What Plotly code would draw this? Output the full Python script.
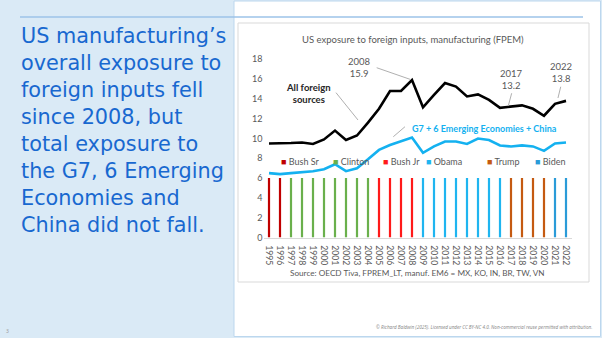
import plotly.graph_objects as go

# ---------------- data ----------------
years = ["1995", "1996", "1997", "1998", "1999", "2000", "2001", "2002", "2003", "2004",
         "2005", "2006", "2007", "2008", "2009", "2010", "2011", "2012", "2013", "2014",
         "2015", "2016", "2017", "2018", "2019", "2020", "2021", "2022"]
all_foreign = [9.5, 9.5, 9.55, 9.6, 9.45, 9.9, 10.8, 9.85, 10.3, 11.6,
               13.0, 14.8, 14.8, 15.9, 13.15, 14.4, 15.6, 15.25, 14.25, 14.45,
               13.9, 13.1, 13.2, 13.35, 13.0, 12.3, 13.5, 13.8]
g7_em6_china = [6.5, 6.4, 6.5, 6.6, 6.7, 6.9, 7.4, 6.7, 7.0, 7.9,
                8.85, 9.35, 9.75, 10.1, 8.55, 9.2, 9.7, 9.7, 9.45, 10.0,
                9.85, 9.3, 9.2, 9.3, 9.2, 8.75, 9.5, 9.6]
president = ["Bush Sr", "Bush Sr", "Clinton", "Clinton", "Clinton", "Clinton", "Clinton", "Clinton",
             "Clinton", "Clinton", "Bush Jr", "Bush Jr", "Bush Jr", "Bush Jr", "Obama", "Obama",
             "Obama", "Obama", "Obama", "Obama", "Obama", "Obama", "Trump", "Trump", "Trump",
             "Trump", "Biden", "Biden"]
term_bar = [6, 6, 6, 6, 6, 6, 6, 6, 6, 6, 6, 6, 6, 6, 6, 6, 6, 6, 6, 6, 6, 6, 6, 6, 6, 6, 6, 6]
presidents = ["Bush Sr", "Clinton", "Bush Jr", "Obama", "Trump", "Biden"]
pres_colors = ["#C00000", "#6AB04C", "#FF1A1A", "#1FB5F0", "#C55A11", "#2A9BD8"]

# point labels (year, value)
callouts = [("2008", "15.9"), ("2017", "13.2"), ("2022", "13.8")]

# ---------------- figure ----------------
W, H = 602, 338
def px(x):
    return x / W
def py(y):
    return 1 - y / H

GRAY = "#595959"
CH_FONT = "Lato"

fig = go.Figure()
for name, col in zip(presidents, pres_colors):
    xs = [y for y, p in zip(years, president) if p == name]
    vs = [v for v, p in zip(term_bar, president) if p == name]
    fig.add_trace(go.Bar(x=xs, y=vs, name=name, marker=dict(color=col, line=dict(width=0)),
                         width=0.2, showlegend=False, hoverinfo="skip"))
fig.add_trace(go.Scatter(x=years, y=all_foreign, mode="lines", name="All foreign sources",
                         line=dict(color="#000000", width=2.6), showlegend=False))
fig.add_trace(go.Scatter(x=years, y=g7_em6_china, mode="lines",
                         name="G7 + 6 Emerging Economies + China",
                         line=dict(color="#14B1F0", width=2.6), showlegend=False))

shapes = []
# white card on the right of the slide
shapes.append(dict(type="rect", xref="paper", yref="paper", x0=px(234), x1=px(600.5),
                   y0=py(336.5), y1=py(1), fillcolor="white",
                   line=dict(color="#BCD7EE", width=1), layer="below"))
# top rule
shapes.append(dict(type="line", xref="paper", yref="paper", x0=px(20), x1=px(583),
                   y0=py(17), y1=py(17), line=dict(color="#9CC3E8", width=1.3)))
# chart box
shapes.append(dict(type="rect", xref="paper", yref="paper", x0=px(238), x1=px(589),
                   y0=py(282), y1=py(23), fillcolor="white",
                   line=dict(color="#D9D9D9", width=1), layer="below"))
# leader lines (category index, value)
leaders = [((9.79, 17.15), (12.82, 15.98)),
           ((6.09, 14.63), (8.09, 11.87)),
           ((22.06, 14.57), (21.75, 13.28)),
           ((26.52, 15.23), (26.27, 14.09)),
           ((12.36, 11.19), (11.3, 10.18))]
for (a, b) in leaders:
    shapes.append(dict(type="line", xref="x", yref="y", x0=a[0], y0=a[1], x1=b[0], y1=b[1],
                       line=dict(color="#A6A6A6", width=0.9)))

annotations = []
# left headline (one multi-line text block)
headline = ["US manufacturing\u2019s", "overall exposure to", "foreign inputs fell",
            "since 2008, but", "total exposure to", "the G7, 6 Emerging",
            "Economies and", "China did not fall."]
annotations.append(dict(xref="paper", yref="paper", x=px(19), y=py(22.5), xanchor="left",
                        yanchor="top", align="left", showarrow=False,
                        text="<br>".join(headline),
                        font=dict(family="DejaVu Sans", size=20.8, color="#1868D0")))
# chart title
annotations.append(dict(xref="paper", yref="paper", x=px(413), y=py(40), xanchor="center",
                        yanchor="middle", showarrow=False,
                        text="US exposure to foreign inputs, manufacturing (FPEM)",
                        font=dict(family=CH_FONT, size=9.5, color=GRAY)))
# source
annotations.append(dict(xref="paper", yref="paper", x=px(417), y=py(272.7), xanchor="center",
                        yanchor="middle", showarrow=False,
                        text="Source: OECD Tiva, FPREM_LT, manuf. EM6 = MX, KO, IN, BR, TW, VN",
                        font=dict(family=CH_FONT, size=8.2, color=GRAY)))
# callouts
callout_pos = {"2008": (8.27, 17.13), "2017": (22.0, 15.96), "2022": (26.52, 16.67)}
for yr, val in callouts:
    cx, cy = callout_pos[yr]
    annotations.append(dict(xref="x", yref="y", x=cx, y=cy, xanchor="center", yanchor="middle",
                            showarrow=False, text=f"{yr}<br>{val}",
                            font=dict(family=CH_FONT, size=9.5, color=GRAY)))
annotations.append(dict(xref="x", yref="y", x=3.55, y=14.5, xanchor="center", yanchor="middle",
                        showarrow=False, text="<b>All foreign</b><br><b>sources</b>",
                        font=dict(family=CH_FONT, size=9.5, color="#262626")))
annotations.append(dict(xref="x", yref="y", x=12.82, y=11.03, xanchor="left", yanchor="middle",
                        showarrow=False, text="<b>G7 + 6 Emerging Economies + China</b>",
                        font=dict(family=CH_FONT, size=9, color="#14B1F0")))
# legend row
legend_px = [279, 331, 381, 424, 485, 533]
for name, col, lx in zip(presidents, pres_colors, legend_px):
    annotations.append(dict(xref="paper", yref="y", x=px(lx), y=7.7, xanchor="left",
                            yanchor="middle", showarrow=False,
                            text=f"<span style='color:{col}'>\u25A0</span> {name}",
                            font=dict(family=CH_FONT, size=9, color=GRAY)))
# copyright & page number
annotations.append(dict(xref="paper", yref="paper", x=px(594), y=py(327), xanchor="right",
                        yanchor="middle", showarrow=False,
                        text="<i>\u00a9 Richard Baldwin (2025). Licensed under CC BY-NC 4.0. "
                             "Non-commercial reuse permitted with attribution.</i>",
                        font=dict(family="Noto Sans", size=4.6, color="#8C8C8C")))
annotations.append(dict(xref="paper", yref="paper", x=px(7), y=py(331), xanchor="center",
                        yanchor="middle", showarrow=False,
                        text="3", font=dict(family="Noto Sans", size=5, color="#9A9A9A")))

fig.update_layout(
    width=W, height=H, margin=dict(l=0, r=0, t=0, b=0, autoexpand=False),
    paper_bgcolor="#DAEAF6", plot_bgcolor="rgba(0,0,0,0)",
    barmode="overlay", showlegend=False,
    shapes=shapes, annotations=annotations,
    xaxis=dict(type="category", domain=[px(263.5), px(571.5)], range=[-0.5, 27.5],
               tickmode="array", tickvals=years, ticktext=years, automargin=False,
               tickangle=90, tickfont=dict(family=CH_FONT, size=8.7, color=GRAY),
               ticklabelstandoff=5,
               showgrid=False, showline=True, linecolor="#D9D9D9", ticks="", zeroline=False),
    yaxis=dict(domain=[py(237.5), py(59.3)], range=[0, 18], dtick=2, automargin=False,
               tickfont=dict(family=CH_FONT, size=9, color=GRAY),
               showgrid=False, zeroline=False, showline=False, ticks=""),
)

fig.write_html("out.html")
